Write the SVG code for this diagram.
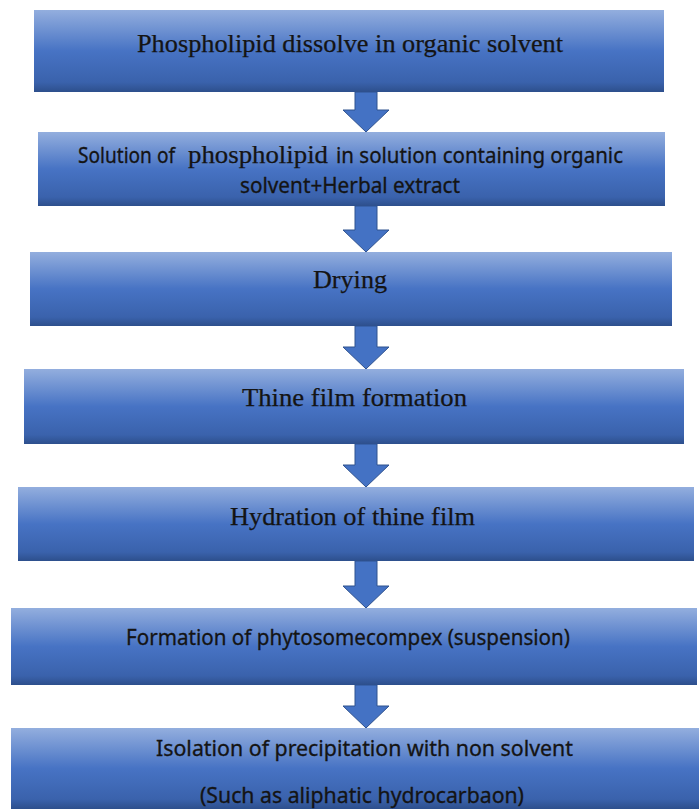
<svg xmlns="http://www.w3.org/2000/svg" width="699" height="809" viewBox="0 0 699 809">
<defs>
<linearGradient id="g" x1="0" y1="0" x2="0" y2="1">
<stop offset="0" stop-color="#93aede"/>
<stop offset="0.5" stop-color="#4773c4"/>
<stop offset="0.88" stop-color="#3a62ac"/>
<stop offset="1" stop-color="#2d4f8c"/>
</linearGradient>
</defs>
<style>
.box{fill:url(#g);}
.ser{font-family:"Liberation Serif","Times New Roman",serif;font-size:25px;fill:#141414;stroke:#141414;stroke-width:0.25;}
.san{font-family:"Noto Sans","Open Sans",sans-serif;font-size:21px;fill:#141414;stroke:#141414;stroke-width:0.3;}
.arrow{fill:#4472c4;stroke:#2f528f;stroke-width:1;}
</style>
<rect width="699" height="809" fill="#ffffff"/>
<g id="connectors">
<path class="arrow" d="M355,92 H377 V110 H389 L366,132 L343,110 H355 Z"/>
<path class="arrow" d="M355,206 H377 V230 H389 L366,252 L343,230 H355 Z"/>
<path class="arrow" d="M355,326 H377 V347 H389 L366,369 L343,347 H355 Z"/>
<path class="arrow" d="M355,444 H377 V465 H389 L366,487 L343,465 H355 Z"/>
<path class="arrow" d="M355,561 H377 V586 H389 L366,608 L343,586 H355 Z"/>
<path class="arrow" d="M355,685 H377 V706 H389 L366,728 L343,706 H355 Z"/>
</g>
<g id="n1">
<rect class="box" x="34" y="10" width="630" height="82"/>
<text class="ser" x="137" y="52" textLength="426" lengthAdjust="spacingAndGlyphs">Phospholipid dissolve in organic solvent</text>
</g>
<g id="n2">
<rect class="box" x="38" y="132" width="627" height="74"/>
<text class="san" x="78" y="163" textLength="97" lengthAdjust="spacingAndGlyphs">Solution of</text>
<text class="ser" x="188" y="163" textLength="140" lengthAdjust="spacingAndGlyphs">phospholipid</text>
<text class="san" x="336" y="163" textLength="287" lengthAdjust="spacingAndGlyphs">in solution containing organic</text>
<text class="san" x="240" y="193" textLength="220" lengthAdjust="spacingAndGlyphs">solvent+Herbal extract</text>
</g>
<g id="n3">
<rect class="box" x="30" y="252" width="642" height="74"/>
<text class="ser" x="313" y="288" textLength="74" lengthAdjust="spacingAndGlyphs">Drying</text>
</g>
<g id="n4">
<rect class="box" x="24" y="369" width="660" height="75"/>
<text class="ser" x="242" y="406" textLength="225" lengthAdjust="spacingAndGlyphs">Thine film formation</text>
</g>
<g id="n5">
<rect class="box" x="18" y="487" width="676" height="74"/>
<text class="ser" x="230" y="525" textLength="245" lengthAdjust="spacingAndGlyphs">Hydration of thine film</text>
</g>
<g id="n6">
<rect class="box" x="11" y="608" width="686" height="77"/>
<text class="san" x="126" y="645" textLength="444" lengthAdjust="spacingAndGlyphs">Formation of phytosomecompex (suspension)</text>
</g>
<g id="n7">
<rect class="box" x="11" y="728" width="688" height="81"/>
<text class="san" x="156" y="756" textLength="417" lengthAdjust="spacingAndGlyphs">Isolation of precipitation with non solvent</text>
<text class="san" x="200" y="803" textLength="324" lengthAdjust="spacingAndGlyphs">(Such as aliphatic hydrocarbaon)</text>
</g>
</svg>
